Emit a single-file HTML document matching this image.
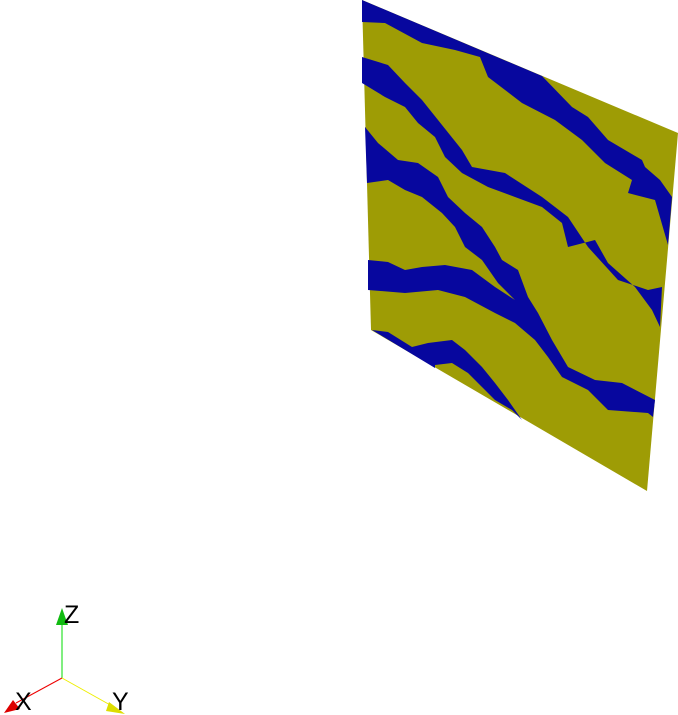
<!DOCTYPE html>
<html><head><meta charset="utf-8"><style>
html,body{margin:0;padding:0;background:#fff;width:678px;height:715px;overflow:hidden}
svg{display:block}
text{font-family:"Liberation Sans",sans-serif}
</style></head><body>
<svg width="678" height="715" viewBox="0 0 678 715">
 <g>
  <polygon fill="#9e9c05" points="362,0 678,133 647,491 371,330"/>
  <polygon fill="#07079e" points="362,0 542,76 572,107 588,117 608,140 642,160 645,167 660,180 672,197 668,245 655,200 628,193 632,180 605,163 582,140 555,120 522,103 488,77 480,57 455,50 422,43 385,23 362,22"/>
  <polygon fill="#07079e" points="362,57 388,65 405,83 422,100 438,120 462,150 472,167 505,173 542,197 568,217 588,247 618,280 648,290 662,287 660,327 652,310 635,287 608,263 595,240 568,247 562,223 542,207 515,197 488,187 462,173 445,157 435,137 418,123 405,107 385,97 362,83"/>
  <polygon fill="#07079e" points="365,127 378,143 398,160 418,163 438,177 448,197 465,213 482,227 495,247 502,260 518,270 528,297 538,313 552,340 568,367 595,380 622,383 655,400 653,417 648,413 608,410 588,390 562,377 548,357 535,340 515,323 495,313 465,297 438,290 405,293 368,290 368,260 388,262 405,270 422,267 445,265 472,270 495,287 515,300 498,283 482,260 465,247 455,227 442,213 422,197 405,190 388,180 367,183"/>
  <polygon fill="#07079e" points="372,330 388,332 412,347 428,343 452,340 465,350 482,367 495,383 508,400 522,420 512,410 495,400 482,387 468,373 452,363 435,365 435,368"/>
 </g>
 <g>
  <line x1="62" y1="678" x2="62" y2="622" stroke="#00dd00" stroke-width="1"/>
  <polygon fill="#11bb11" points="62,608 56,625 68,625"/>
  <text x="64" y="623" font-size="25" fill="#000">Z</text>
  <line x1="62" y1="678" x2="16" y2="703" stroke="#ee0000" stroke-width="1"/>
  <polygon fill="#dd0000" points="4,713 13,700 20,709"/>
  <text x="15" y="710" font-size="25" fill="#000">X</text>
  <line x1="62" y1="678" x2="112" y2="706" stroke="#eeee00" stroke-width="1"/>
  <polygon fill="#dddd00" points="125,714 109,702 106,711"/>
  <text x="112" y="710" font-size="25" fill="#000">Y</text>
 </g>
</svg>
</body></html>
